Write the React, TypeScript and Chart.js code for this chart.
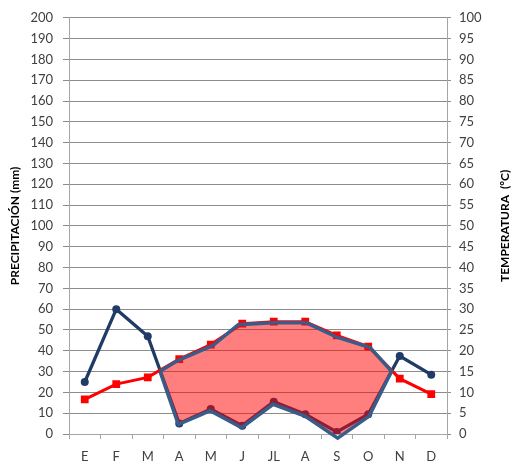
import React, { useEffect, useRef } from "react";
import { Chart, registerables } from "chart.js";

Chart.register(...registerables);

const months = ["E", "F", "M", "A", "M", "J", "JL", "A", "S", "O", "N", "D"];
const precipitation = [25, 60, 47, 5, 12, 4, 15.5, 9.5, 1, 9.5, 37.5, 28.5];
const temperature = [8.3, 12, 13.6, 18, 21.5, 26.5, 27, 27, 23.7, 21, 13.3, 9.6];
// Dry-period polygon (x = month index, y = precipitation scale)
const dryX = [2.39, 2.97, 4.08, 4.87, 5.98, 7.04, 8.0, 9.06, 9.74, 9.03, 8.03, 6.99, 5.98, 4.98, 3.98, 3.66, 2.97, 2.39];
const dryY = [30.1, 35.4, 42.6, 52.5, 53.4, 53.4, 46.5, 41.5, 30.1, 8.6, -2, 8.6, 14.3, 3.0, 11.2, 9.1, 4.6, 30.1];

const leftTitle = "PRECIPITACIÓN (mm)";
const rightTitle = "TEMPERATURA  (ºC)";

const FONT = "Lato, 'Open Sans', sans-serif";
const TICK_COLOR = "#404040";
const GRID = "#8c8c8c";
const AXIS = "#a6a6a6";

const rightTitlePlugin = {
  id: "rightTitle",
  afterDraw(chart: any) {
    const s = chart.scales.y2;
    const ctx = chart.ctx;
    ctx.save();
    ctx.translate(s.right - 6, (s.top + s.bottom) / 2);
    ctx.rotate(-Math.PI / 2);
    ctx.font = `bold 12px ${FONT}`;
    ctx.fillStyle = "#000000";
    ctx.textAlign = "center";
    ctx.textBaseline = "middle";
    ctx.fillText(rightTitle, 0, 0);
    ctx.restore();
  },
};

export default function App() {
  const ref = useRef<HTMLCanvasElement>(null);
  useEffect(() => {
    const poly = dryX.map((x, i) => ({ x, y: dryY[i] }));
    const chart = new Chart(ref.current!, {
      type: "line",
      data: {
        labels: months,
        datasets: [
          {
            label: "outline",
            data: poly as any,
            xAxisID: "x2",
            yAxisID: "y",
            borderColor: "#385d8a",
            borderWidth: 3.5,
            pointRadius: 0,
            fill: false,
            tension: 0,
            clip: false as any,
            order: 0,
          },
          {
            label: "Temperatura",
            data: temperature,
            xAxisID: "x",
            yAxisID: "y2",
            borderColor: "#ff0000",
            backgroundColor: "#ff0000",
            borderWidth: 3,
            pointStyle: "rect",
            pointRadius: 5.5,
            pointBorderWidth: 0,
            fill: false,
            order: 1,
          },
          {
            label: "fill",
            data: poly as any,
            xAxisID: "x2",
            yAxisID: "y",
            borderWidth: 0,
            borderColor: "rgba(0,0,0,0)",
            backgroundColor: "rgba(255,0,0,0.5)",
            pointRadius: 0,
            fill: "shape" as any,
            tension: 0,
            clip: false as any,
            order: 2,
          },
          {
            label: "Precipitación",
            data: precipitation,
            xAxisID: "x",
            yAxisID: "y",
            borderColor: "#1f3b66",
            backgroundColor: "#1f3b66",
            borderWidth: 3.3,
            pointStyle: "circle",
            pointRadius: 4,
            pointBorderWidth: 0,
            fill: false,
            order: 3,
          },
        ],
      },
      options: {
        responsive: false,
        animation: false,
        layout: { padding: { top: 17, left: 0, right: 0, bottom: 0 } },
        plugins: {
          legend: { display: false },
          tooltip: { enabled: false },
          filler: { drawTime: "beforeDatasetDraw" } as any,
        },
        scales: {
          x: {
            type: "category",
            offset: true,
            grid: {
              offset: true,
              drawOnChartArea: false,
              tickLength: 5,
              color: AXIS,
            },
            border: { color: AXIS },
            ticks: {
              color: TICK_COLOR,
              font: { family: FONT, size: 13 },
              padding: 10,
              maxRotation: 0,
            },
            afterFit: (s: any) => {
              s.height = 29;
            },
          },
          x2: {
            type: "linear",
            display: false,
            min: -0.5,
            max: 11.5,
          },
          y: {
            position: "left",
            min: 0,
            max: 200,
            ticks: {
              stepSize: 10,
              color: TICK_COLOR,
              font: { family: FONT, size: 13 },
              padding: 10,
            },
            grid: { color: GRID, tickLength: 6 },
            border: { color: AXIS },
            title: {
              display: true,
              text: leftTitle,
              color: "#000000",
              font: { family: FONT, size: 12, weight: "bold" },
              padding: { top: 8, bottom: 0 },
            },
            afterFit: (s: any) => {
              s.width = 69;
            },
          },
          y2: {
            position: "right",
            min: 0,
            max: 100,
            ticks: {
              stepSize: 5,
              color: TICK_COLOR,
              font: { family: FONT, size: 13 },
              padding: 8,
            },
            grid: { drawOnChartArea: false, color: GRID, tickLength: 4 },
            border: { color: AXIS },
            title: { display: false },
            afterFit: (s: any) => {
              s.width = 64;
            },
          },
        },
      },
      plugins: [rightTitlePlugin],
    });
    return () => chart.destroy();
  }, []);
  return (
    <div style={{ position: "absolute", left: 0, top: 0, width: 511, height: 463, background: "#fff" }}>
      <canvas ref={ref} width={511} height={463} />
    </div>
  );
}
